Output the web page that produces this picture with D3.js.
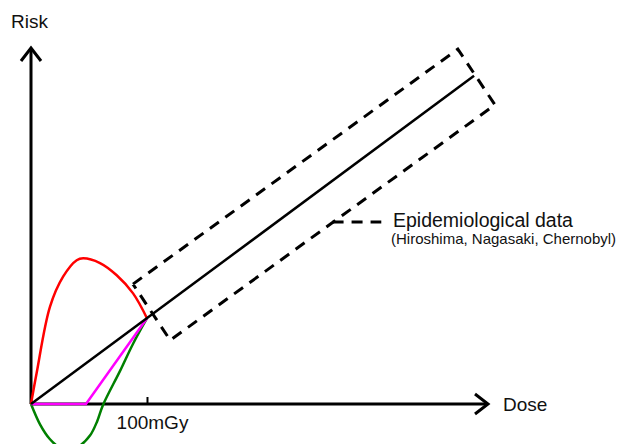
<!DOCTYPE html>
<html>
<head>
<meta charset="utf-8">
<script src="https://cdn.jsdelivr.net/npm/d3@7"></script>
<style>
  body { margin: 0; background: #fff; }
  text { font-family: "Liberation Sans", Arial, sans-serif; fill: #111; }
</style>
</head>
<body>
<div id="container"></div>
<script>
// dose in mGy, risk in arbitrary units
let linearModel = [[0, 0], [382, 283]];
let supraLinear = [[0, 0], [4.9, 27], [16.4, 84], [27.8, 110], [39.4, 124], [45, 125.6], [59.5, 121.5], [73.9, 111], [88, 95.4], [100, 74]];
let hormesis = [[0, 0], [8, -18], [16, -30], [24, -37], [33, -39.5], [42, -36], [51, -27], [57, -15], [62, -1], [77, 29], [88, 52], [100, 74]];
let threshold = [[0, 0], [47.4, 0], [100, 74]];
let epiBox = [[87.9, 103.4], [368, 306], [400, 258], [120, 55]];
let leader = [[260, 157], [302, 157]];
let tickValues = [100];
let tickUnit = "mGy";
let doseMax = 394;
let riskMax = 307;

let w = 620;
let h = 444;

let viz = d3.select('#container')
              .append("svg")
                .attr("width", w)
                .attr("height", h)
                .style("background-color", "#ffffff")
;

let xScale = d3.scaleLinear().domain([0, doseMax]).range([31, 488]);
let yScale = d3.scaleLinear().domain([0, riskMax]).range([404, 48]);

// open arrow head
viz.append("defs").append("marker")
    .attr("id", "arrow")
    .attr("markerUnits", "userSpaceOnUse")
    .attr("viewBox", "-16 -12 20 24")
    .attr("refX", 0)
    .attr("refY", 0)
    .attr("markerWidth", 20)
    .attr("markerHeight", 24)
    .attr("orient", "auto")
  .append("path")
    .attr("d", "M-13,-10 L0,0 L-13,10")
    .attr("fill", "none")
    .attr("stroke", "black")
    .attr("stroke-width", 3)
;

let line = d3.line()
               .x(d => xScale(d[0]))
               .y(d => yScale(d[1]))
;

//x axis tick + label
let xAxis = d3.axisBottom(xScale)
                .tickValues(tickValues)
                .tickFormat(d => d + tickUnit)
                .tickSizeInner(-7)
                .tickSizeOuter(0)
                .tickPadding(12)
;
let xg = viz.append("g")
              .attr("transform", "translate(0," + yScale(0) + ")")
              .call(xAxis)
;
xg.select(".domain").remove();
xg.selectAll(".tick line").attr("stroke", "black").attr("stroke-width", 2);
xg.selectAll(".tick text")
    .attr("dx", 5)
    .style("font-family", "'Liberation Sans', Arial, sans-serif")
    .style("font-size", "19px")
    .attr("fill", "#111")
;

//axes lines with arrows
viz.append("path")
    .attr("d", line([[0, 0], [doseMax, 0]]))
    .attr("stroke", "black")
    .attr("stroke-width", 3)
    .attr("fill", "none")
    .attr("marker-end", "url(#arrow)")
;
viz.append("path")
    .attr("d", line([[0, 0], [0, riskMax]]))
    .attr("stroke", "black")
    .attr("stroke-width", 3)
    .attr("fill", "none")
    .attr("marker-end", "url(#arrow)")
;

//dashed epidemiological box
viz.append("path")
    .attr("d", line(epiBox.concat([epiBox[0]])))
    .attr("fill", "none")
    .attr("stroke", "black")
    .attr("stroke-width", 3)
    .style("stroke-dasharray", "11,8")
;
viz.append("path")
    .attr("d", line(leader))
    .attr("fill", "none")
    .attr("stroke", "black")
    .attr("stroke-width", 3)
    .style("stroke-dasharray", "11,8")
;

//models
let smooth = d3.line()
                 .x(d => xScale(d[0]))
                 .y(d => yScale(d[1]))
                 .curve(d3.curveCatmullRom.alpha(0.5))
;
viz.append("path")
    .attr("d", smooth(hormesis))
    .attr("fill", "none")
    .attr("stroke", "#008000")
    .attr("stroke-width", 2.5)
;
viz.append("path")
    .attr("d", line(threshold))
    .attr("fill", "none")
    .attr("stroke", "#ff00ff")
    .attr("stroke-width", 2.5)
;
viz.append("path")
    .attr("d", smooth(supraLinear))
    .attr("fill", "none")
    .attr("stroke", "#ff0000")
    .attr("stroke-width", 2.5)
;
viz.append("path")
    .attr("d", line(linearModel))
    .attr("fill", "none")
    .attr("stroke", "black")
    .attr("stroke-width", 2.5)
;

//labels
viz.append("text").text("Risk")
    .attr("x", 11).attr("y", 28)
    .style("font-size", "19px")
;
viz.append("text").text("Dose")
    .attr("x", 503).attr("y", 411)
    .style("font-size", "19px")
;
viz.append("text").text("Epidemiological data")
    .attr("x", 393).attr("y", 227)
    .style("font-size", "19.5px")
;
viz.append("text").text("(Hiroshima, Nagasaki, Chernobyl)")
    .attr("x", 391).attr("y", 244)
    .style("font-size", "15px")
;
</script>
</body>
</html>
